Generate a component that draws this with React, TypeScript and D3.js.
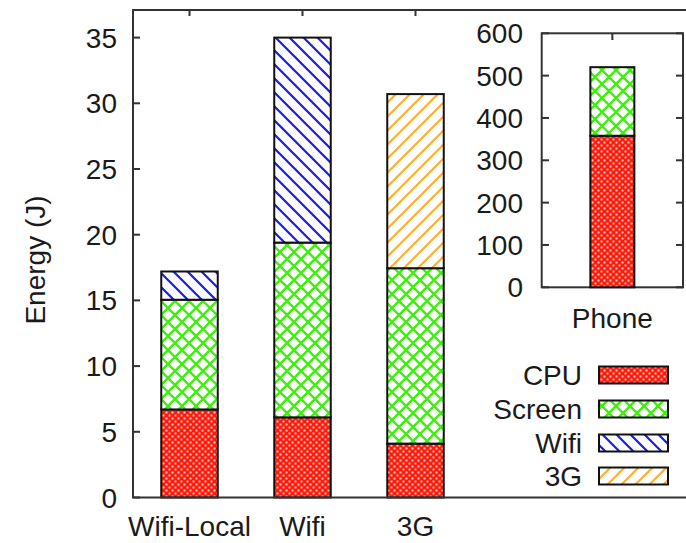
import React from 'react';
import * as d3 from 'd3';

// values (J)
const categories = ['Wifi-Local', 'Wifi', '3G'];
const seriesNames = ['CPU', 'Screen', 'Wifi', '3G'];
const cpuValues = [6.7, 6.1, 4.1];
const screenValues = [8.35, 13.3, 13.35];
const wifiValues = [2.15, 15.6, 0];
const g3Values = [0, 0, 13.25];
const yTicks = [0, 5, 10, 15, 20, 25, 30, 35];

const phoneCategory = ['Phone'];
const phoneCpu = [358];
const phoneScreen = [162];
const phoneTicks = [0, 100, 200, 300, 400, 500, 600];

const FONT = '"Liberation Sans", Arial, Helvetica, sans-serif';
const TEXT = '#1a1a1a';
const FRAME = '#333';

const patternIds = ['pCpu', 'pScreen', 'pWifi', 'p3g'];

function Patterns() {
  return (
    <defs>
      <pattern id="pCpu" width="6" height="6" patternUnits="userSpaceOnUse">
        <rect width="6" height="6" fill="#ff1a0a" />
        <rect x="0.5" y="0.5" width="2" height="2" fill="#fff" opacity="0.75" />
        <rect x="3.5" y="3.5" width="2" height="2" fill="#fff" opacity="0.75" />
      </pattern>
      <pattern id="pScreen" width="14" height="14" patternUnits="userSpaceOnUse">
        <rect width="14" height="14" fill="#fff" />
        <path d="M0,0L14,14M14,0L0,14" stroke="#3cf00a" strokeWidth="2.3" />
      </pattern>
      <pattern id="pWifi" width="14" height="14" patternUnits="userSpaceOnUse">
        <rect width="14" height="14" fill="#fff" />
        <path d="M-1,-1L15,15M-8,6L1,15M6,-8L15,1" stroke="#1a1aee" strokeWidth="2.2" />
      </pattern>
      <pattern id="p3g" width="14" height="14" patternUnits="userSpaceOnUse">
        <rect width="14" height="14" fill="#fff" />
        <path d="M-1,15L15,-1M-8,8L1,-1M6,22L15,13" stroke="#fbb130" strokeWidth="2.2" />
      </pattern>
    </defs>
  );
}

export default function App() {
  // main plot
  const x = d3.scaleBand().domain(categories).range([133, 472]).padding(0);
  const y = d3.scaleLinear().domain([0, 37.1]).range([497.5, 10]);
  const barW = x.bandwidth() * 0.5;

  const series = [cpuValues, screenValues, wifiValues, g3Values];
  const rows = categories.map((c, i) => {
    const r: any = { cat: c };
    seriesNames.forEach((s, k) => (r[s] = series[k][i]));
    return r;
  });
  const stacked = d3.stack().keys(seriesNames)(rows);

  // inset
  const xi = d3.scaleBand().domain(phoneCategory).range([541.7, 683]);
  const yi = d3.scaleLinear().domain([0, 600]).range([287.3, 33.3]);
  const insetRows = phoneCategory.map((c, i) => ({ cat: c, CPU: phoneCpu[i], Screen: phoneScreen[i] }));
  const insetStack = d3.stack().keys(['CPU', 'Screen'])(insetRows as any);
  const insetW = 44;

  const legendY = [375, 409, 443, 476];

  return (
    <svg width={686} height={543} style={{ position: 'absolute', left: 0, top: 0, background: '#fff' }}
      fontFamily={FONT} fill={TEXT}>
      <Patterns />
      <rect width={686} height={543} fill="#fff" />

      {/* main frame and ticks */}
      {yTicks.map(t => (
        <g key={t}>
          <line x1={133} x2={140} y1={y(t)} y2={y(t)} stroke={FRAME} strokeWidth={2} />
          <text x={117} y={y(t)} dy="0.36em" textAnchor="end" fontSize={28}>{t}</text>
        </g>
      ))}
      {categories.map(c => (
        <g key={c}>
          <line x1={x(c)! + x.bandwidth() / 2} x2={x(c)! + x.bandwidth() / 2} y1={10} y2={16} stroke={FRAME} strokeWidth={2} />
          <text x={x(c)! + x.bandwidth() / 2} y={536} textAnchor="middle" fontSize={28}>{c}</text>
        </g>
      ))}

      {stacked.map((layer, k) => (
        <g key={layer.key}>
          {layer.map((d, i) => d[1] - d[0] > 0 ? (
            <rect key={i}
              x={x(categories[i])! + (x.bandwidth() - barW) / 2}
              y={y(d[1])}
              width={barW}
              height={y(d[0]) - y(d[1])}
              fill={`url(#${patternIds[k]})`}
              stroke="#111" strokeWidth={2} />
          ) : null)}
        </g>
      ))}

      <path d="M690,10H133V497.5H690" fill="none" stroke={FRAME} strokeWidth={2} />

      <text transform="translate(45,260) rotate(-90)" textAnchor="middle" fontSize={28}>Energy (J)</text>

      {/* inset */}
      <rect x={541.7} y={33.3} width={141.3} height={254} fill="#fff" stroke={FRAME} strokeWidth={2} />
      {phoneTicks.map(t => (
        <g key={t}>
          <line x1={541.7} x2={549} y1={yi(t)} y2={yi(t)} stroke={FRAME} strokeWidth={2} />
          <line x1={683} x2={676} y1={yi(t)} y2={yi(t)} stroke={FRAME} strokeWidth={2} />
          <text x={523} y={yi(t)} dy="0.36em" textAnchor="end" fontSize={28}>{t}</text>
        </g>
      ))}
      {phoneCategory.map(c => (
        <g key={c}>
          <line x1={xi(c)! + xi.bandwidth() / 2} x2={xi(c)! + xi.bandwidth() / 2} y1={33.3} y2={40} stroke={FRAME} strokeWidth={2} />
          <text x={xi(c)! + xi.bandwidth() / 2} y={328} textAnchor="middle" fontSize={28}>{c}</text>
        </g>
      ))}
      {insetStack.map((layer, k) => (
        <g key={layer.key}>
          {layer.map((d, i) => (
            <rect key={i}
              x={xi(phoneCategory[i])! + (xi.bandwidth() - insetW) / 2}
              y={yi(d[1])}
              width={insetW}
              height={yi(d[0]) - yi(d[1])}
              fill={`url(#${patternIds[k]})`}
              stroke="#111" strokeWidth={2} />
          ))}
        </g>
      ))}

      {/* legend */}
      {seriesNames.map((s, k) => (
        <g key={s}>
          <text x={582} y={legendY[k]} dy="0.36em" textAnchor="end" fontSize={28}>{s}</text>
          <rect x={599} y={legendY[k] - 8.5} width={69} height={17} fill={`url(#${patternIds[k]})`} stroke="#111" strokeWidth={2} />
        </g>
      ))}
    </svg>
  );
}
